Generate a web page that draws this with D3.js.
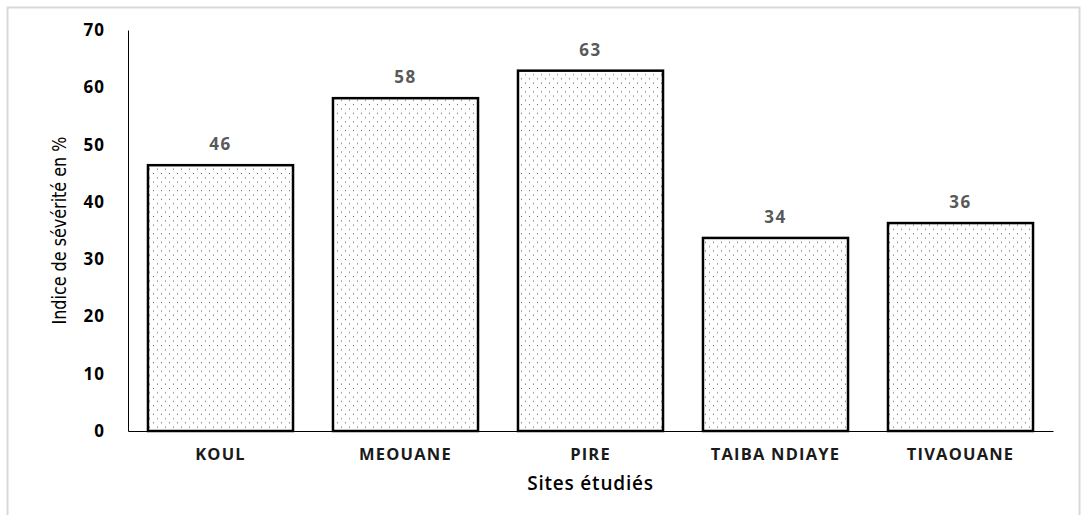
<!DOCTYPE html>
<html><head><meta charset="utf-8">
<script src="https://cdn.jsdelivr.net/npm/d3@7"></script>
<style>body{margin:0;background:#fff}svg{display:block}</style>
</head><body>
<svg id="c" width="1081" height="515"></svg>
<script>
const categories = ["KOUL","MEOUANE","PIRE","TAIBA NDIAYE","TIVAOUANE"];
const values = [46.4, 58.1, 62.9, 33.7, 36.3];
const valueLabels = ["46","58","63","34","36"];
const yTicks = [0,10,20,30,40,50,60,70];
const yTitle = "Indice de sévérité en %";
const xTitle = "Sites étudiés";

const svg = d3.select("#c");
const W = 1081, H = 515;
const m = {left:128, right:28, top:30, bottom:84};
const x = d3.scaleBand().domain(categories).range([m.left, W - m.right]).paddingInner(0.216).paddingOuter(0.108);
const y = d3.scaleLinear().domain([0,70]).range([H - m.bottom, m.top]);

// frame
svg.append("rect").attr("x",7.5).attr("y",7.5).attr("width",1072).attr("height",520)
  .attr("fill","none").attr("stroke","#d9d9d9").attr("stroke-width",2);

// pattern
const defs = svg.append("defs");
const pat = defs.append("pattern").attr("id","dots").attr("patternUnits","userSpaceOnUse")
  .attr("width",8).attr("height",8.6);
pat.append("rect").attr("width",8).attr("height",8.6).attr("fill","#fff");
pat.append("rect").attr("x",1).attr("y",1).attr("width",1).attr("height",1).attr("fill","#555");
pat.append("rect").attr("x",5).attr("y",5.3).attr("width",1).attr("height",1).attr("fill","#555");

// y axis
const yAxis = d3.axisLeft(y).tickValues(yTicks).tickSize(0).tickPadding(23);
const gy = svg.append("g").attr("transform",`translate(${m.left},0)`).call(yAxis);
gy.select(".domain").attr("stroke","#000").attr("stroke-width",1);
gy.selectAll("text").attr("font-family","'Open Sans', sans-serif").attr("font-weight","bold")
  .attr("font-size",17).attr("letter-spacing","1px").attr("fill","#000");

// bars
svg.selectAll("rect.bar").data(categories).join("rect").attr("class","bar")
  .attr("x", d => x(d)).attr("width", x.bandwidth())
  .attr("y", (d,i) => y(values[i])).attr("height", (d,i) => y(0) - y(values[i]))
  .attr("fill","url(#dots)").attr("stroke","#000").attr("stroke-width",2.5);

// x axis
const xAxis = d3.axisBottom(x).tickSize(0).tickPadding(17);
const gx = svg.append("g").attr("transform",`translate(0,${y(0)})`).call(xAxis);
gx.select(".domain").attr("stroke","#000").attr("stroke-width",1.2);
gx.selectAll("text").attr("font-family","'Open Sans', sans-serif").attr("font-weight","bold")
  .attr("font-size",16.5).attr("fill","#1a1a1a").attr("letter-spacing","1.2px");

// value labels
svg.selectAll("text.vl").data(categories).join("text").attr("class","vl")
  .attr("x", d => x(d) + x.bandwidth()/2)
  .attr("y", (d,i) => y(values[i]) - 15)
  .attr("text-anchor","middle")
  .attr("font-family","'Open Sans', sans-serif").attr("font-weight","bold")
  .attr("font-size",17).attr("letter-spacing","1.5px").attr("fill","#595959")
  .text((d,i) => valueLabels[i]);

// titles
svg.append("text").attr("transform",`translate(66,${(y(0)+y(70))/2}) rotate(-90)`)
  .attr("text-anchor","middle").attr("font-family","'Liberation Sans Narrow','DejaVu Sans Condensed',sans-serif")
  .attr("font-size",20).attr("textLength",188).attr("lengthAdjust","spacingAndGlyphs")
  .attr("fill","#000").text(yTitle);
svg.append("text").attr("x",(m.left + W - m.right)/2).attr("y",490)
  .attr("text-anchor","middle").attr("font-family","'Open Sans', sans-serif").attr("font-weight","600")
  .attr("font-size",19).attr("letter-spacing","0.8px").attr("fill","#000").text(xTitle);
</script>
</body></html>
